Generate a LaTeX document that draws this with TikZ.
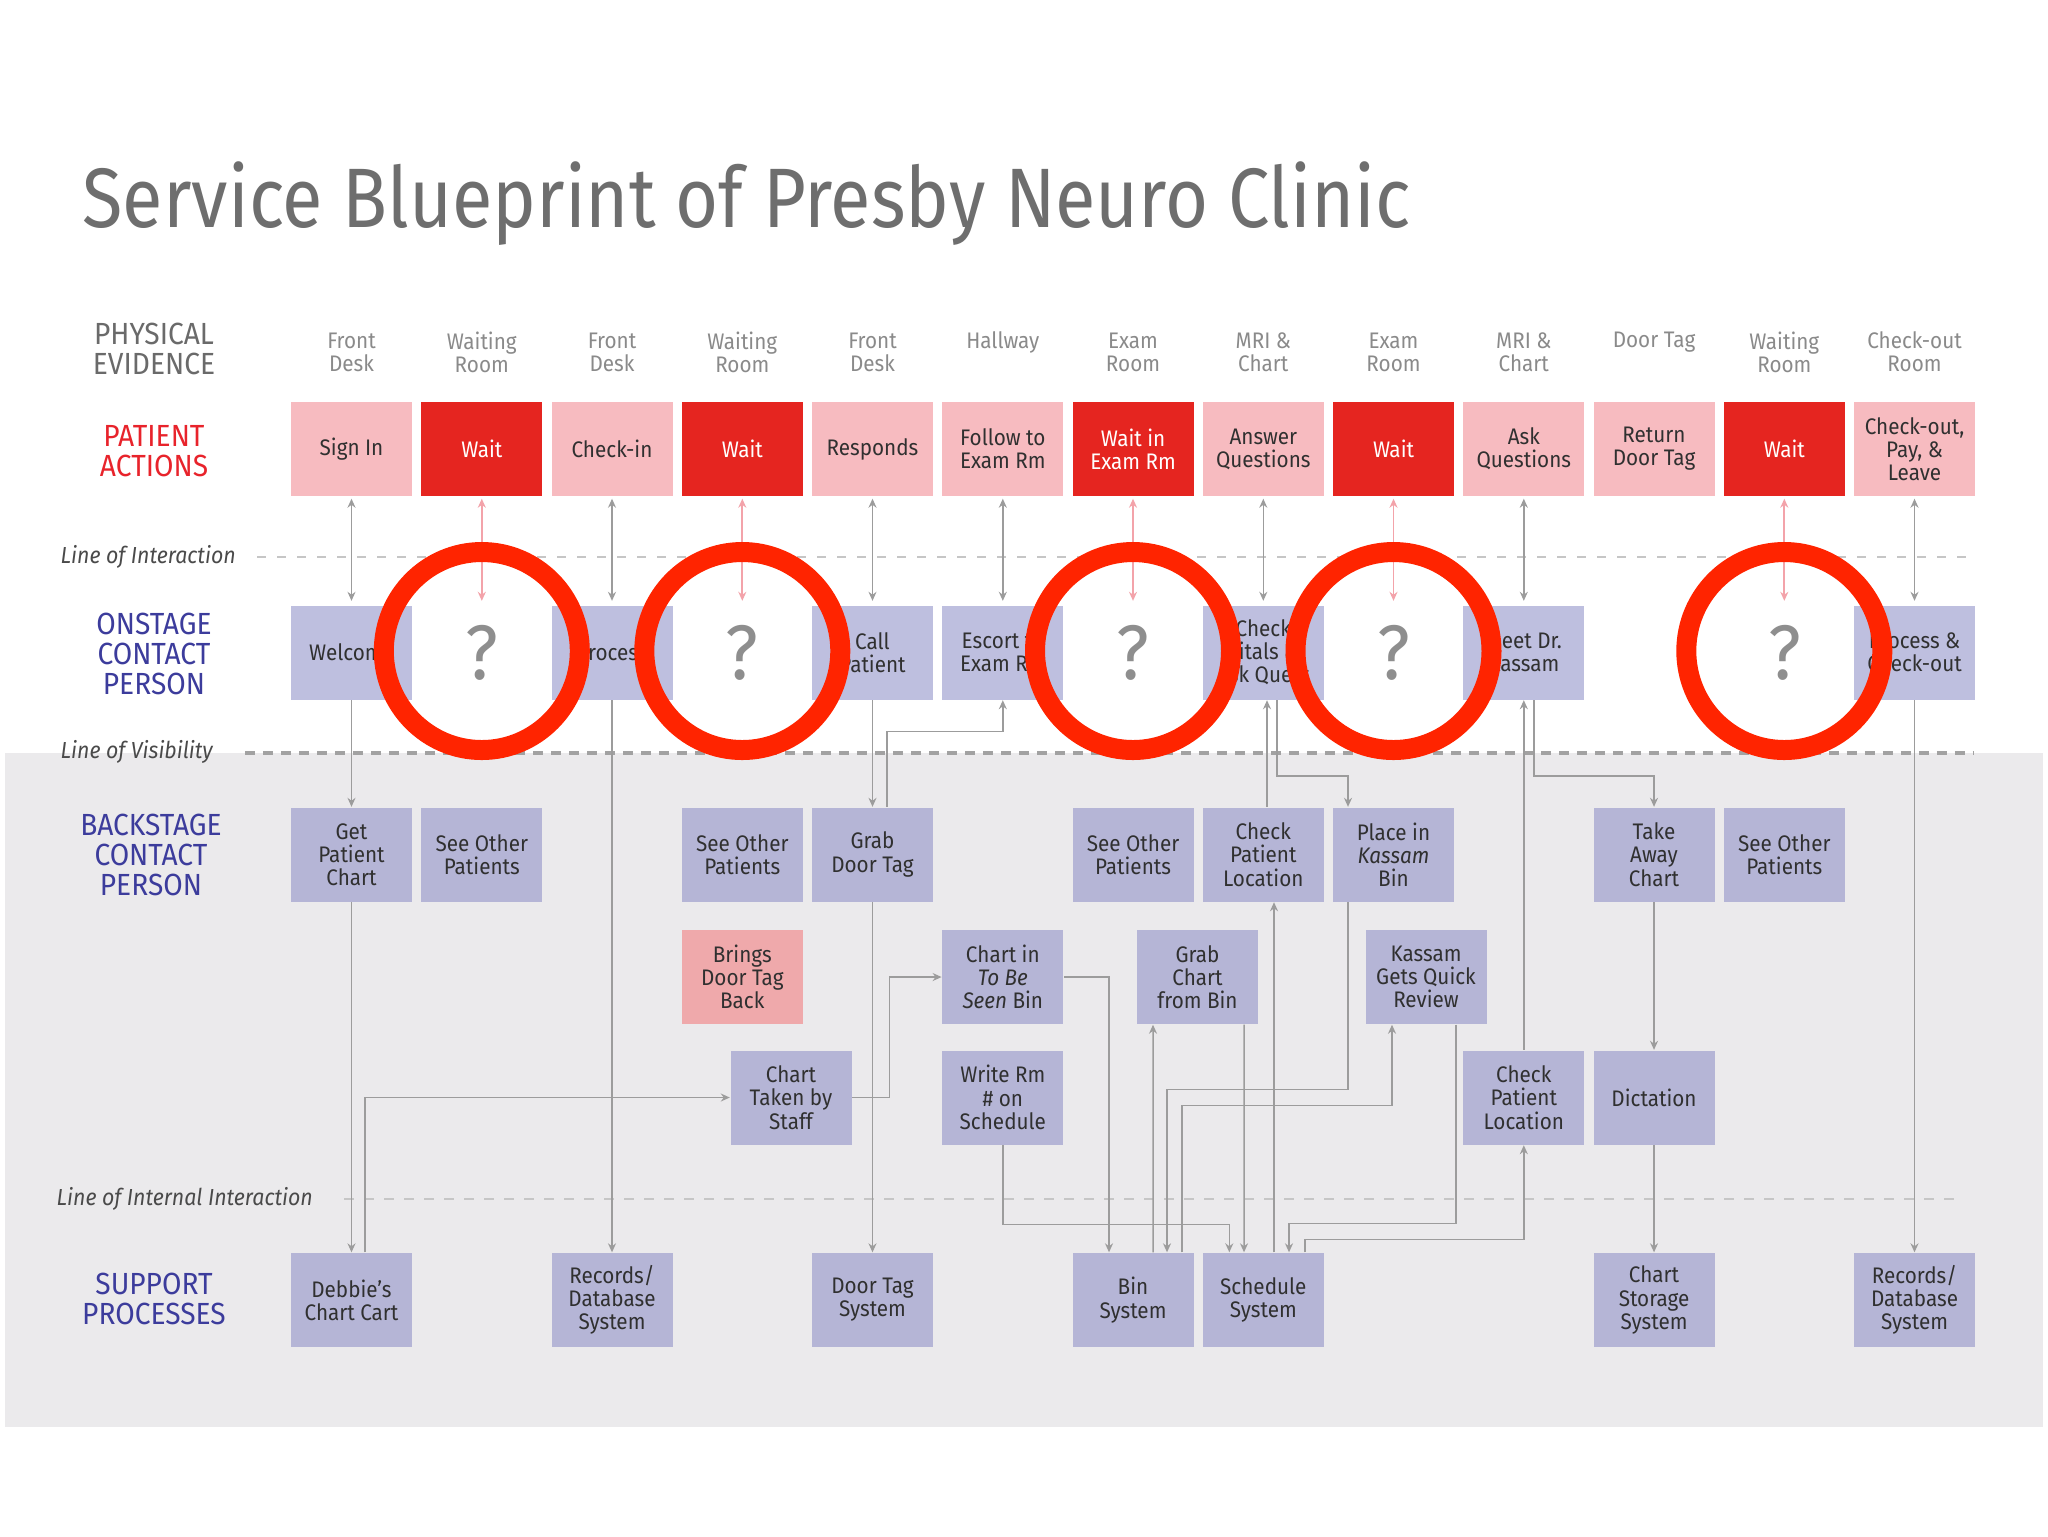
\documentclass[tikz,border=0pt]{standalone}
\usepackage{fontspec}
\usepackage{graphicx}
\setmainfont[FakeStretch=0.92]{Fira Sans}
\usetikzlibrary{arrows.meta}
\definecolor{bggray}{HTML}{EBEAEC}
\definecolor{pinkbox}{HTML}{F7BBC0}
\definecolor{redbox}{HTML}{E52520}
\definecolor{lavA}{HTML}{BEBFDF}
\definecolor{lavB}{HTML}{B5B5D6}
\definecolor{bringpink}{HTML}{EFA9AB}
\definecolor{boxtext}{HTML}{303030}
\definecolor{titlegray}{HTML}{6E6E6E}
\definecolor{pegray}{HTML}{6A6A6A}
\definecolor{colgray}{HTML}{8A8A8A}
\definecolor{pared}{HTML}{E8232B}
\definecolor{navy}{HTML}{3C3C9C}
\definecolor{lngray}{HTML}{4A4A4A}
\definecolor{qgray}{HTML}{8E8E8E}
\definecolor{conngray}{HTML}{9C9C9C}
\definecolor{connpink}{HTML}{F3A3AA}
\definecolor{ringred}{HTML}{FF2400}
\definecolor{dashlight}{HTML}{C6C6C6}
\definecolor{dashdark}{HTML}{A2A2A2}
\newcommand\bxfont{\fontsize{6.4}{6.6}\selectfont}
\newcommand\sectfont{\fontsize{8.7}{8.6}\selectfont}
\newcommand\lnfont{\fontsize{6.6}{7}\selectfont\itshape}
\newcommand\qfont{\fontsize{22}{22}\selectfont}
\begin{document}
\begin{tikzpicture}[x=0.1mm,y=-0.1mm,
 >={Stealth[length=0.9mm,width=0.8mm]},
 bx/.style={minimum width=12.1mm,minimum height=9.4mm,inner sep=0pt,align=center,font=\bxfont,text=boxtext},
 pa/.style={bx,fill=pinkbox},
 pr/.style={bx,fill=redbox,text=white},
 los/.style={bx,fill=lavA},
 lbk/.style={bx,fill=lavB},
 bring/.style={bx,fill=bringpink},
 qq/.style={bx,font=\qfont,text=qgray},
 sect/.style={align=center,font=\sectfont,inner sep=0pt},
 collab/.style={align=center,font=\bxfont,text=colgray,inner sep=0pt},
 lnlab/.style={anchor=west,font=\lnfont,text=lngray,inner sep=0pt},
 conn/.style={draw=conngray,line width=0.42pt,->},
 topconn/.style={draw=conngray,line width=0.42pt,<->,shorten <=0.2mm,shorten >=0.4mm},
 pinkconn/.style={draw=connpink,line width=0.5pt,<->,shorten <=0.2mm,shorten >=0.4mm},
 ring/.style={draw=ringred,line width=2mm}
]
\useasboundingbox (0,0) rectangle (2048,1536);
\fill[white] (0,0) rectangle (2048,1536);
\fill[bggray] (5,753) rectangle (2043,1427);

% title
\node[anchor=base west,inner sep=0pt,text=titlegray] (title) at (82,227)
  {\resizebox{132.8mm}{\height}{\fontsize{24}{24}\selectfont Service Blueprint of Presby Neuro Clinic}};

% section labels
\node[sect,text=pegray] (lpe) at (154,349) {PHYSICAL\\EVIDENCE};
\node[sect,text=pared] (lpa) at (154,451) {PATIENT\\ACTIONS};
\node[sect,text=navy] (los) at (154,654) {ONSTAGE\\CONTACT\\PERSON};
\node[sect,text=navy] (lbs) at (151,855) {BACKSTAGE\\CONTACT\\PERSON};
\node[sect,text=navy] (lsp) at (154,1299) {SUPPORT\\PROCESSES};

% line labels and lines
\node[lnlab] (lint) at (60,557) {Line of Interaction};
\node[lnlab] (lvis) at (60,752) {Line of Visibility};
\node[lnlab] (lii) at (56,1199) {Line of Internal Interaction};
\draw[dashlight,line width=0.6pt,dash pattern=on 0.9mm off 1.1mm] (257,557) -- (1974,557);
\draw[dashdark,line width=1.1pt,dash pattern=on 1mm off 0.8mm] (245,753) -- (1974,753);
\draw[dashlight,line width=0.6pt,dash pattern=on 1mm off 1mm] (344,1199) -- (1962,1199);

% physical evidence column labels
\node[collab] (pe1) at (351.5,352) {Front\\Desk};
\node[collab] (pe2) at (481.8,352) {Waiting\\Room};
\node[collab] (pe3) at (612,352) {Front\\Desk};
\node[collab] (pe4) at (742.3,352) {Waiting\\Room};
\node[collab] (pe5) at (872.5,352) {Front\\Desk};
\node[collab] (pe6) at (1002.8,342) {Hallway};
\node[collab] (pe7) at (1133,352) {Exam\\Room};
\node[collab] (pe8) at (1263.3,352) {MRI \&\\Chart};
\node[collab] (pe9) at (1393.5,352) {Exam\\Room};
\node[collab] (pe10) at (1523.8,352) {MRI \&\\Chart};
\node[collab] (pe11) at (1654,342) {Door Tag};
\node[collab] (pe12) at (1784.3,352) {Waiting\\Room};
\node[collab] (pe13) at (1914.5,352) {Check-out\\Room};

% patient actions
\node[pa] (pa1) at (351.5,449) {Sign In};
\node[pr] (pa2) at (481.8,449) {Wait};
\node[pa] (pa3) at (612,449) {Check-in};
\node[pr] (pa4) at (742.3,449) {Wait};
\node[pa] (pa5) at (872.5,449) {Responds};
\node[pa] (pa6) at (1002.8,449) {Follow to\\Exam Rm};
\node[pr] (pa7) at (1133,449) {Wait in\\Exam Rm};
\node[pa] (pa8) at (1263.3,449) {Answer\\Questions};
\node[pr] (pa9) at (1393.5,449) {Wait};
\node[pa] (pa10) at (1523.8,449) {Ask\\Questions};
\node[pa] (pa11) at (1654,449) {Return\\Door Tag};
\node[pr] (pa12) at (1784.3,449) {Wait};
\node[pa] (pa13) at (1914.5,449) {Check-out,\\Pay, \&\\Leave};

% onstage
\node[los] (os1) at (351.5,652.5) {Welcome};
\node[qq] (q2) at (481.8,652.5) {?};
\node[los] (os3) at (612,652.5) {Process};
\node[qq] (q4) at (742.3,652.5) {?};
\node[los] (os5) at (872.5,652.5) {Call\\Patient};
\node[los] (os6) at (1002.8,652.5) {Escort to\\Exam Rm};
\node[qq] (q7) at (1133,652.5) {?};
\node[los] (os8) at (1263.3,652.5) {Check\\Vitals \&\\Ask Quest};
\node[qq] (q9) at (1393.5,652.5) {?};
\node[los] (os10) at (1523.8,652.5) {Meet Dr.\\Kassam};
\node[qq] (q12) at (1784.3,652.5) {?};
\node[los] (os13) at (1914.5,652.5) {Process \&\\Check-out};

% backstage row 1
\node[lbk] (gpc) at (351.5,854.5) {Get\\Patient\\Chart};
\node[lbk] (sop2) at (481.8,854.5) {See Other\\Patients};
\node[lbk] (sop4) at (742.3,854.5) {See Other\\Patients};
\node[lbk] (gdt) at (872.5,854.5) {Grab\\Door Tag};
\node[lbk] (sop7) at (1133,854.5) {See Other\\Patients};
\node[lbk] (cpl1) at (1263.3,854.5) {Check\\Patient\\Location};
\node[lbk] (pkb) at (1393.5,854.5) {Place in\\\textit{Kassam}\\Bin};
\node[lbk] (tac) at (1654,854.5) {Take\\Away\\Chart};
\node[lbk] (sop12) at (1784.3,854.5) {See Other\\Patients};

% backstage row 2
\node[bring] (bdt) at (742.3,977) {Brings\\Door Tag\\Back};
\node[lbk] (ctb) at (1002.8,977) {Chart in\\\textit{To Be}\\\textit{Seen} Bin};
\node[lbk] (gcb) at (1197.5,977) {Grab\\Chart\\from Bin};
\node[lbk] (kgq) at (1426,977) {Kassam\\Gets Quick\\Review};

% backstage row 3
\node[lbk] (cts) at (791,1097.5) {Chart\\Taken by\\Staff};
\node[lbk] (wrs) at (1002.8,1097.5) {Write Rm\\\# on\\Schedule};
\node[lbk] (cpl3) at (1523.8,1097.5) {Check\\Patient\\Location};
\node[lbk] (dict) at (1654,1097.5) {Dictation};

% support
\node[lbk] (dcc) at (351.5,1300) {Debbie’s\\Chart Cart};
\node[lbk] (rds3) at (612,1300) {Records/\\Database\\System};
\node[lbk] (dts) at (872.5,1300) {Door Tag\\System};
\node[lbk] (bin) at (1133,1300) {Bin\\System};
\node[lbk] (sch) at (1263.3,1300) {Schedule\\System};
\node[lbk] (css) at (1654,1300) {Chart\\Storage\\System};
\node[lbk] (rds13) at (1914.5,1300) {Records/\\Database\\System};

% patient action <-> onstage
\draw[topconn] (pa1.south) -- (os1.north);
\draw[pinkconn] (pa2.south) -- (q2.north);
\draw[topconn] (pa3.south) -- (os3.north);
\draw[pinkconn] (pa4.south) -- (q4.north);
\draw[topconn] (pa5.south) -- (os5.north);
\draw[topconn] (pa6.south) -- (os6.north);
\draw[pinkconn] (pa7.south) -- (q7.north);
\draw[topconn] (pa8.south) -- (os8.north);
\draw[pinkconn] (pa9.south) -- (q9.north);
\draw[topconn] (pa10.south) -- (os10.north);
\draw[pinkconn] (pa12.south) -- (q12.north);
\draw[topconn] (pa13.south) -- (os13.north);

% lower connectors
\draw[conn] (os1.south) -- (gpc.north);
\draw[conn] (gpc.south) -- (dcc.north);
\draw[conn] ([xshift=1.35mm]dcc.north) |- (cts.west);
\draw[conn] (os3.south) -- (rds3.north);
\draw[conn] (os5.south) -- (gdt.north);
\draw[conn] (gdt.south) -- (dts.north);
\draw[conn] ([xshift=1.45mm]gdt.north) -- ++(0,-75.5) -| (os6.south);
\draw[conn] (cts.east) -- ++(37.5,0) |- (ctb.west);
\draw[conn] (ctb.east) -| ([xshift=-2.4mm]bin.north);
\draw[conn] (wrs.south) -- ++(0,79.5) -| ([xshift=-3.4mm]sch.north);
\draw[conn] ([xshift=2mm]bin.north) -- ([xshift=-4.45mm]gcb.south);
\draw[conn] ([xshift=4.65mm]gcb.south) -- ([xshift=-1.93mm]sch.north);
\draw[conn] ([xshift=1.07mm]sch.north) -- ([xshift=1.07mm]cpl1.south);
\draw[conn] ([xshift=0.37mm]cpl1.north) -- ([xshift=0.37mm]os8.south);
\draw[conn] ([xshift=1.37mm]os8.south) -- ++(0,76) -| ([xshift=-4.55mm]pkb.north);
\draw[conn] ([xshift=-4.55mm]pkb.south) -- ++(0,187.5) -| ([xshift=3.4mm]bin.north);
\draw[conn] ([xshift=4.9mm]bin.north) -- ++(0,-147) -| ([xshift=-3.4mm]kgq.south);
\draw[conn] ([xshift=3mm]kgq.south) -- ++(0,199) -| ([xshift=2.57mm]sch.north);
\draw[conn] ([xshift=4.17mm]sch.north) -- ++(0,-13) -| (cpl3.south);
\draw[conn] (cpl3.north) -- (os10.south);
\draw[conn] ([xshift=1mm]os10.south) -- ++(0,76) -| (tac.north);
\draw[conn] (tac.south) -- (dict.north);
\draw[conn] (dict.south) -- (css.north);
\draw[conn] (os13.south) -- (rds13.north);

% red rings
\draw[ring] (481.8,651) ellipse [x radius=9.8mm,y radius=9.9mm];
\draw[ring] (742.3,651) ellipse [x radius=9.8mm,y radius=9.9mm];
\draw[ring] (1133,651) ellipse [x radius=9.8mm,y radius=9.9mm];
\draw[ring] (1393.5,651) ellipse [x radius=9.8mm,y radius=9.9mm];
\draw[ring] (1784.3,651) ellipse [x radius=9.8mm,y radius=9.9mm];
\end{tikzpicture}
\end{document}
